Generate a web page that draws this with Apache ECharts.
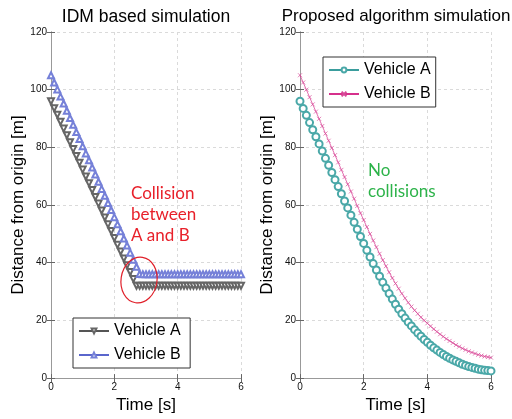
<!DOCTYPE html>
<html>
<head>
<meta charset="utf-8">
<script src="https://cdn.jsdelivr.net/npm/echarts@6/dist/echarts.min.js"></script>
<style>
html,body{margin:0;padding:0;background:#fff;}
#c{width:512px;height:419px;}
</style>
</head>
<body>
<div id="c"></div>
<script>
// Time samples [s]
const time = [0,0.1,0.2,0.3,0.4,0.5,0.6,0.7,0.8,0.9,1.0,1.1,1.2,1.3,1.4,1.5,1.6,1.7,1.8,1.9,2.0,2.1,2.2,2.3,2.4,2.5,2.6,2.7,2.8,2.9,3.0,3.1,3.2,3.3,3.4,3.5,3.6,3.7,3.8,3.9,4.0,4.1,4.2,4.3,4.4,4.5,4.6,4.7,4.8,4.9,5.0,5.1,5.2,5.3,5.4,5.5,5.6,5.7,5.8,5.9,6.0];

// IDM based simulation
const idmA = [96,93.6,91.3,88.9,86.5,84.2,81.8,79.4,77.0,74.7,72.3,69.9,67.6,65.2,62.8,60.5,58.1,55.7,53.3,51.0,48.6,46.2,43.9,41.5,39.1,36.8,34.4,32.0,
  32,32,32,32,32,32,32,32,32,32,32,32,32,32,32,32,32,32,32,32,32,32,32,32,32,32,32,32,32,32,32,32,32];
const idmB = [105,102.5,100.1,97.6,95.2,92.7,90.2,87.8,85.3,82.9,80.4,77.9,75.5,73.0,70.6,68.1,65.6,63.2,60.7,58.3,55.8,53.3,50.9,48.4,46.0,43.5,41.0,38.6,36.1,
  36,36,36,36,36,36,36,36,36,36,36,36,36,36,36,36,36,36,36,36,36,36,36,36,36,36,36,36,36,36,36,36,36];

// Proposed algorithm simulation
const propA = [96.0,93.5,91.1,88.6,86.1,83.7,81.2,78.7,76.2,73.8,71.3,68.8,66.4,63.9,61.4,59.0,56.5,54.0,51.6,49.1,46.7,44.3,42.0,39.7,37.5,35.3,33.2,31.2,29.3,27.4,25.6,23.9,22.3,20.8,19.4,18.1,16.8,15.6,14.5,13.4,12.4,11.4,10.5,9.7,8.9,8.2,7.5,6.9,6.3,5.8,5.3,4.8,4.4,4.0,3.7,3.4,3.1,2.9,2.7,2.6,2.5];
const propB = [105.0,102.5,100.0,97.4,94.9,92.4,89.9,87.4,84.8,82.3,79.8,77.3,74.8,72.2,69.7,67.2,64.7,62.2,59.7,57.2,54.8,52.4,50.0,47.7,45.4,43.1,40.9,38.8,36.7,34.7,32.8,31.0,29.3,27.7,26.2,24.8,23.5,22.3,21.1,20.0,19.0,18.0,17.0,16.1,15.2,14.4,13.6,12.9,12.2,11.5,10.9,10.3,9.8,9.3,8.9,8.5,8.1,7.8,7.5,7.3,7.1];

const titles = ['IDM based simulation', 'Proposed algorithm simulation'];

const pairs = (ys) => time.map((t, i) => [t, ys[i]]);
const FONT = 'Liberation Sans, Arial, sans-serif';

const grids = [
  {left: 51, right: 271, top: 32, bottom: 40},
  {left: 300, right: 21, top: 32, bottom: 40}
];

function xAx(gi) {
  return [{
    type: 'value', gridIndex: gi, min: 0, max: 6, interval: 2,
    name: 'Time [s]', nameLocation: 'middle', nameGap: 16,
    nameTextStyle: {fontFamily: FONT, fontSize: 17, color: '#000'},
    axisLine: {show: true, lineStyle: {color: '#999', width: 1}},
    axisTick: {show: true, inside: true, length: 4, lineStyle: {color: '#666'}},
    axisLabel: {fontFamily: FONT, fontSize: 10, color: '#111', margin: 4},
    splitLine: {show: true, lineStyle: {color: '#dadada', type: [3, 3], width: 1}}
  }, {
    type: 'value', gridIndex: gi, position: 'top', min: 0, max: 6, interval: 2,
    axisLine: {show: true, lineStyle: {color: '#999', width: 1}},
    axisTick: {show: true, inside: true, length: 4, lineStyle: {color: '#666'}},
    axisLabel: {show: false}, splitLine: {show: false}
  }];
}
function yAx(gi) {
  return [{
    type: 'value', gridIndex: gi, min: 0, max: 120, interval: 20,
    name: 'Distance from origin [m]', nameLocation: 'middle', nameGap: 24,
    nameTextStyle: {fontFamily: FONT, fontSize: 17, color: '#000'},
    axisLine: {show: true, lineStyle: {color: '#999', width: 1}},
    axisTick: {show: true, inside: true, length: 4, lineStyle: {color: '#666'}},
    axisLabel: {fontFamily: FONT, fontSize: 10, color: '#111', margin: 4},
    splitLine: {show: true, lineStyle: {color: '#dadada', type: [3, 3], width: 1}}
  }, {
    type: 'value', gridIndex: gi, position: 'right', min: 0, max: 120, interval: 20,
    axisLine: {show: true, lineStyle: {color: '#999', width: 1}},
    axisTick: {show: true, inside: true, length: 4, lineStyle: {color: '#666'}},
    axisLabel: {show: false}, splitLine: {show: false}
  }];
}

const xPath = 'path://M0,0L10,10M10,0L0,10';
const legendBase = {
  orient: 'vertical', itemWidth: 30, itemHeight: 6, itemGap: 8, padding: [5, 5, 5, 5],
  backgroundColor: '#fff', borderColor: '#333', borderWidth: 1,
  textStyle: {fontFamily: FONT, fontSize: 16, color: '#000'}
};

const chart = echarts.init(document.getElementById('c'), null, {renderer: 'canvas'});
const option = {
  animation: false,
  backgroundColor: '#fff',
  title: [
    {text: titles[0], left: 141, top: 3, textAlign: 'center',
     textStyle: {fontFamily: FONT, fontSize: 17.5, fontWeight: 'normal', color: '#000'}},
    {text: titles[1], left: 391, top: 3, textAlign: 'center',
     textStyle: {fontFamily: FONT, fontSize: 17, fontWeight: 'normal', color: '#000'}}
  ],
  grid: grids,
  xAxis: [...xAx(0), ...xAx(1)],
  yAxis: [...yAx(0), ...yAx(1)],
  legend: [
    Object.assign({data: ['Vehicle A ', 'Vehicle B '], left: 73, top: 318}, legendBase),
    Object.assign({data: ['Vehicle A', 'Vehicle B'], left: 323, top: 57}, legendBase)
  ],
  series: [
    {name: 'Vehicle A ', type: 'line', xAxisIndex: 0, yAxisIndex: 0, data: pairs(idmA),
     symbol: 'emptyTriangle', symbolRotate: 180, symbolSize: 6,
     lineStyle: {color: '#555', width: 0.7}, itemStyle: {color: '#666', borderWidth: 0.5}},
    {name: 'Vehicle B ', type: 'line', xAxisIndex: 0, yAxisIndex: 0, data: pairs(idmB),
     symbol: 'emptyTriangle', symbolSize: 6,
     lineStyle: {color: '#5a66cc', width: 0.7}, itemStyle: {color: '#7580d8', borderWidth: 0.5}},
    {name: 'Vehicle A', type: 'line', xAxisIndex: 2, yAxisIndex: 2, data: pairs(propA),
     symbol: 'emptyCircle', symbolSize: 7,
     lineStyle: {color: '#3a9d9d', width: 0.7}, itemStyle: {color: '#4aa8a8', borderWidth: 0.5}},
    {name: 'Vehicle B', type: 'line', xAxisIndex: 2, yAxisIndex: 2, data: pairs(propB),
     symbol: xPath, symbolSize: 4,
     lineStyle: {color: '#d6308c', width: 0.7}, itemStyle: {color: 'none', borderColor: '#d84a98', borderWidth: 0.7}}
  ]
};
chart.setOption(option);

const ctr = chart.convertToPixel({gridIndex: 0}, [2.78, 34]);
chart.setOption({
  graphic: [
    {type: 'ellipse', shape: {cx: ctr[0], cy: ctr[1], rx: 18, ry: 23}, rotation: -0.15,
     originX: ctr[0], originY: ctr[1],
     style: {fill: 'none', stroke: '#e0202a', lineWidth: 1.2}, z: 100},
    {type: 'text', left: 131, top: 183, z: 100,
     style: {text: 'Collision\nbetween\nA and B', fill: '#e8202a', font: '17px Lato, sans-serif', lineHeight: 21}},
    {type: 'text', left: 368, top: 160, z: 100,
     style: {text: 'No\ncollisions', fill: '#2db34a', font: '17px Lato, sans-serif', lineHeight: 21}}
  ]
});
</script>
</body>
</html>
